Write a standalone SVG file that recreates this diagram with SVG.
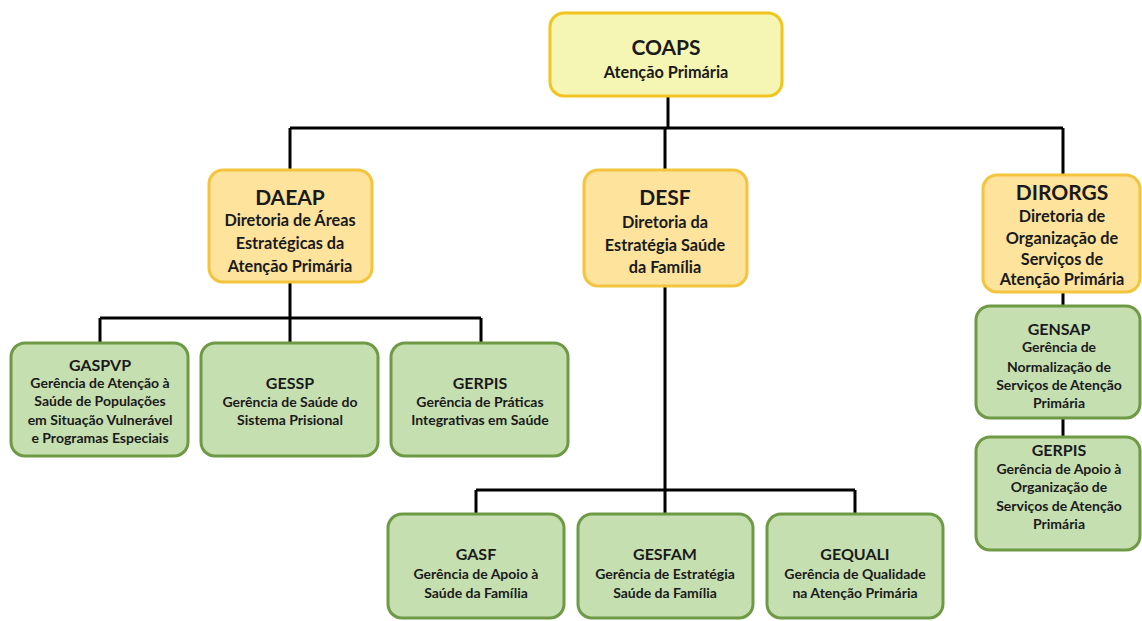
<svg xmlns="http://www.w3.org/2000/svg" width="1142" height="621" viewBox="0 0 1142 621">
<style>
.top{fill:#f6f6b4;stroke:#f2c41e;stroke-width:3}
.dir{fill:#fde39c;stroke:#f4c43f;stroke-width:3}
.ger{fill:#c6dfb1;stroke:#6e9a45;stroke-width:3}
.ln{fill:none;stroke:#000;stroke-width:3}
text{font-family:Lato,"Open Sans",sans-serif;font-weight:bold;fill:#1a1a1a;text-anchor:middle;dominant-baseline:central}
.t1{font-size:21px}
.t2{font-size:21px}
.b2{font-size:16.3px}
.t3{font-size:16px}
.b3{font-size:14px}
</style>
<rect width="1142" height="621" fill="#fff"/>
<g id="connectors">
<path class="ln" d="M668 96V128M290 128H1063M290 128V170M665 128V170M1063 128V175"/>
<path class="ln" d="M290 282V318M100 318H481M100 318V343M290 318V343M481 318V343"/>
<path class="ln" d="M665 286V490M476 490H855M476 490V514M665 490V514M855 490V514"/>
<path class="ln" d="M1063 292V306M1063 418V437"/>
</g>
<g id="coaps"><rect class="top" x="550" y="13" width="232" height="83" rx="14"/>
<text class="t1" x="666" y="46">COAPS</text><text class="b2" x="666" y="71">Atenção Primária</text></g>
<g id="daeap"><rect class="dir" x="209" y="170" width="163" height="112" rx="14"/>
<text class="t2" x="290" y="196">DAEAP</text><text class="b2" x="290" y="219">Diretoria de Áreas</text><text class="b2" x="290" y="242">Estratégicas da</text><text class="b2" x="290" y="265">Atenção Primária</text></g>
<g id="desf"><rect class="dir" x="584" y="170" width="163" height="116" rx="14"/>
<text class="t2" x="665" y="196">DESF</text><text class="b2" x="665" y="221">Diretoria da</text><text class="b2" x="665" y="244">Estratégia Saúde</text><text class="b2" x="665" y="266">da Família</text></g>
<g id="dirorgs"><rect class="dir" x="983" y="175" width="157" height="117" rx="14"/>
<text class="t2" x="1062" y="191">DIRORGS</text><text class="b2" x="1062" y="215">Diretoria de</text><text class="b2" x="1062" y="237">Organização de</text><text class="b2" x="1062" y="258">Serviços de</text><text class="b2" x="1062" y="278">Atenção Primária</text></g>
<g id="gaspvp"><rect class="ger" x="11" y="343" width="177" height="113" rx="14"/>
<text class="t3" x="100" y="364">GASPVP</text><text class="b3" x="100" y="382">Gerência de Atenção à</text><text class="b3" x="100" y="400">Saúde de Populações</text><text class="b3" x="100" y="419">em Situação Vulnerável</text><text class="b3" x="100" y="437">e Programas Especiais</text></g>
<g id="gessp"><rect class="ger" x="201" y="343" width="177" height="113" rx="14"/>
<text class="t3" x="290" y="382">GESSP</text><text class="b3" x="290" y="401">Gerência de Saúde do</text><text class="b3" x="290" y="419">Sistema Prisional</text></g>
<g id="gerpis"><rect class="ger" x="391" y="343" width="177" height="113" rx="14"/>
<text class="t3" x="480" y="382">GERPIS</text><text class="b3" x="480" y="401">Gerência de Práticas</text><text class="b3" x="480" y="419">Integrativas em Saúde</text></g>
<g id="gasf"><rect class="ger" x="388" y="514" width="176" height="104" rx="14"/>
<text class="t3" x="476" y="553">GASF</text><text class="b3" x="476" y="573">Gerência de Apoio à</text><text class="b3" x="476" y="592">Saúde da Família</text></g>
<g id="gesfam"><rect class="ger" x="578" y="514" width="175" height="104" rx="14"/>
<text class="t3" x="665" y="553">GESFAM</text><text class="b3" x="665" y="573">Gerência de Estratégia</text><text class="b3" x="665" y="592">Saúde da Família</text></g>
<g id="gequali"><rect class="ger" x="767" y="514" width="176" height="104" rx="14"/>
<text class="t3" x="855" y="553">GEQUALI</text><text class="b3" x="855" y="573">Gerência de Qualidade</text><text class="b3" x="855" y="592">na Atenção Primária</text></g>
<g id="gensap"><rect class="ger" x="976" y="306" width="164" height="112" rx="14"/>
<text class="t3" x="1059" y="328">GENSAP</text><text class="b3" x="1059" y="346">Gerência de</text><text class="b3" x="1059" y="366">Normalização de</text><text class="b3" x="1059" y="384">Serviços de Atenção</text><text class="b3" x="1059" y="402">Primária</text></g>
<g id="gerpis2"><rect class="ger" x="976" y="437" width="164" height="113" rx="14"/>
<text class="t3" x="1059" y="449">GERPIS</text><text class="b3" x="1059" y="468">Gerência de Apoio à</text><text class="b3" x="1059" y="486">Organização de</text><text class="b3" x="1059" y="505">Serviços de Atenção</text><text class="b3" x="1059" y="523">Primária</text></g>
</svg>
